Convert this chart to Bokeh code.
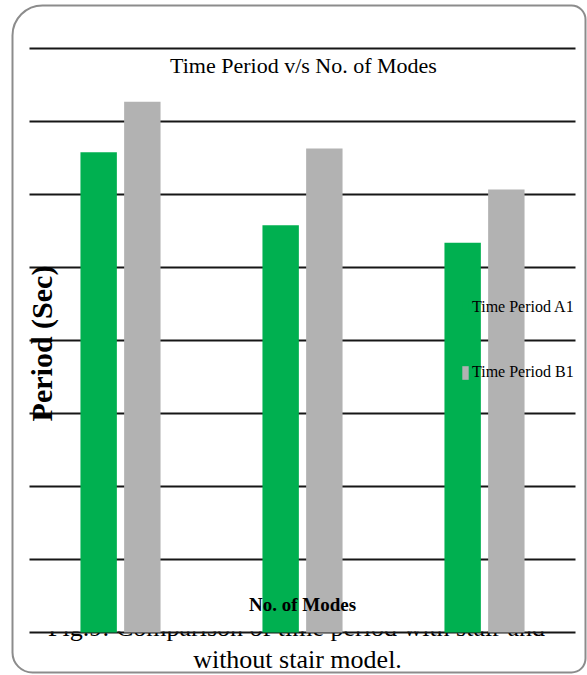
import numpy as np
from bokeh.plotting import figure
from bokeh.models import (Range1d, ColumnDataSource, Label, Legend, LegendItem,
                          BoxAnnotation)
from bokeh.transform import dodge
from bokeh.core.properties import value
from bokeh.embed import file_html
from bokeh.resources import INLINE

# ---------------- data ----------------
modes = ["Mode 1", "Mode 2", "Mode 3"]
period_a1 = [0.658, 0.558, 0.534]
period_b1 = [0.727, 0.663, 0.607]
grid_ticks = [0.0, 0.1, 0.2, 0.3, 0.4, 0.5, 0.6, 0.7, 0.8]
series_names = ["Time Period A1", "Time Period B1"]
chart_title = "Time Period v/s No. of Modes"
y_label = "Period (Sec)"
x_label = "No. of Modes"
caption_1 = "Fig.9: Comparison of time period with stair and"
caption_2 = "without stair model."

# ---------------- layout ----------------
W, H = 587, 675
PX_PER_GROUP = 182.0     # horizontal pixels per category
GROUP0_PX = 120.0        # centre of first category (px from left)
BASE_PX = 632.0          # baseline (px from top)
PX_PER_UNIT = 730.0      # vertical pixels per 1.0 of value

xs = -GROUP0_PX / PX_PER_GROUP
xe = xs + W / PX_PER_GROUP
ys = -(H - BASE_PX) / PX_PER_UNIT
ye = ys + H / PX_PER_UNIT


def dx(px):
    return xs + px / PX_PER_GROUP


def dy(py):
    return ys + (H - py) / PX_PER_UNIT


FONT = "Liberation Serif"

p = figure(width=W, height=H, x_range=Range1d(xs, xe), y_range=Range1d(ys, ye),
           x_axis_type=None, y_axis_type=None, toolbar_location=None,
           output_backend="svg", min_border=0, outline_line_color=None,
           background_fill_color="white", border_fill_color="white")

# caption (lower part shows beneath the chart picture)
p.text(x=[dx(296), dx(297)], y=[dy(627), dy(659)], text=[caption_1, caption_2],
       text_font=value(FONT), text_font_size="26px", text_align="center",
       text_baseline="alphabetic", text_color="black", level="image")

# chart picture background covering the caption top
p.add_layout(BoxAnnotation(left=dx(13), right=dx(584), top=dy(6), bottom=dy(631),
                           fill_color="white", fill_alpha=1.0, line_color=None,
                           level="underlay"))

# horizontal grid lines
n = len(modes)
p.segment(x0=-0.5, x1=n - 0.5, y0=grid_ticks, y1=grid_ticks,
          line_color="#161616", line_width=2)

src = ColumnDataSource(dict(x=np.arange(n), a1=period_a1, b1=period_b1))
ra = p.vbar(x=dodge("x", -0.12), top="a1", bottom=0, width=0.2, source=src,
            fill_color="#00B050", line_color=None)
rb = p.vbar(x=dodge("x", 0.12), top="b1", bottom=0, width=0.2, source=src,
            fill_color="#B2B2B2", line_color=None)

legend = Legend(items=[LegendItem(label=series_names[0], renderers=[ra]),
                       LegendItem(label=series_names[1], renderers=[rb])],
                location=(461, 294), orientation="vertical",
                glyph_width=8, glyph_height=17, label_standoff=3,
                spacing=47, padding=0, margin=0, label_height=17,
                background_fill_alpha=0, border_line_color=None,
                label_text_font=FONT, label_text_font_size="16px",
                label_text_color="black")
p.add_layout(legend)

p.add_layout(Label(x=dx(303), y=dy(65), text=chart_title, text_font=FONT,
                   text_font_size="22px", text_align="center",
                   text_baseline="alphabetic", text_color="black"))
p.add_layout(Label(x=dx(41), y=dy(343), text=y_label, angle=np.pi / 2,
                   text_font=FONT, text_font_size="30px", text_font_style="bold",
                   text_align="center", text_baseline="alphabetic",
                   text_color="black"))
p.add_layout(Label(x=dx(302), y=dy(604), text=x_label, text_font=FONT,
                   text_font_size="19px", text_font_style="bold",
                   text_align="center", text_baseline="alphabetic",
                   text_color="black"))

# rounded outer frame
p.add_layout(BoxAnnotation(left=dx(12), right=dx(585), top=dy(5), bottom=dy(672),
                           fill_color=None, line_color="#8c8c8c", line_alpha=1.0,
                           line_width=2,
                           border_radius=dict(top_left=30, top_right=14,
                                              bottom_right=14, bottom_left=20),
                           level="overlay"))

open("out.html", "w").write(file_html(p, INLINE))
